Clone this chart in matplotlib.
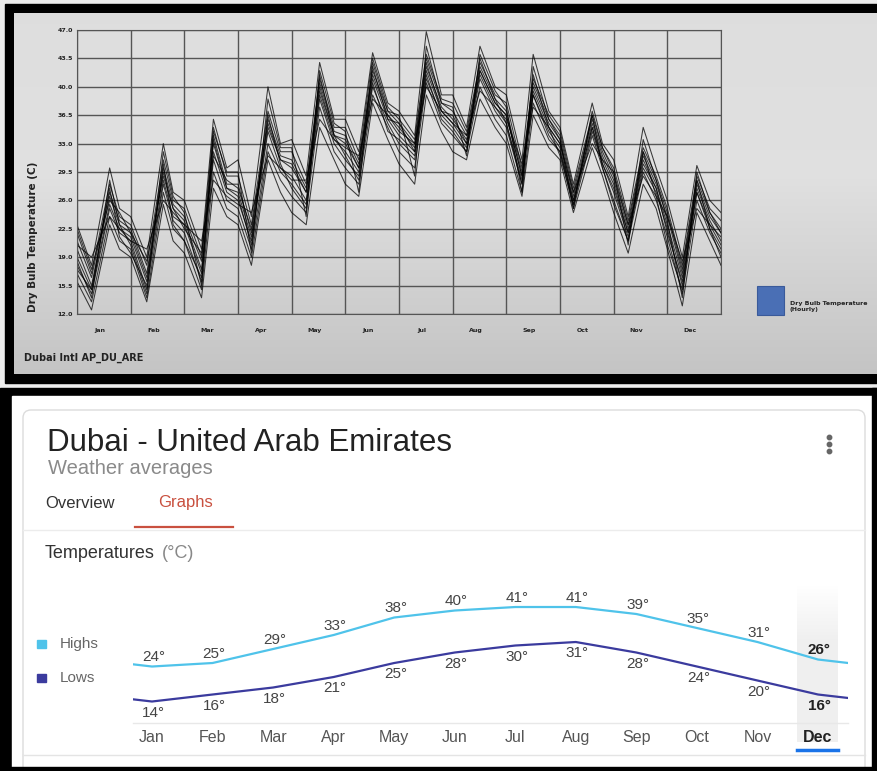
import numpy as np
import matplotlib.pyplot as plt
from matplotlib.patches import Rectangle, FancyBboxPatch

W, H = 878, 771

months = ['Jan', 'Feb', 'Mar', 'Apr', 'May', 'Jun',
          'Jul', 'Aug', 'Sep', 'Oct', 'Nov', 'Dec']

# Grafico de arriba: temperatura de bulbo seco horaria (un dia tipo por fila)
min_hour = [6.5, 7.2, 7.7, 6.0, 6.5, 6.0, 7.0, 6.2, 7.0, 6.0, 6.5, 6.7]
peak_hour = [14.6, 14.6, 13.0, 13.4, 12.5, 12.2, 12.2, 12.2, 12.0, 14.4, 13.2, 13.2]
eve_hour = 19

trace_start = [23.0, 22.0, 21.0, 20.0, 19.0, 18.0, 17.0, 16.0, 20.5, 18.5, 22.5, 17.5]

trace_min = [
    [18.0, 19.0, 20.0, 24.0, 29.0, 32.0, 34.0, 35.0, 31.0, 28.0, 24.0, 19.0],
    [17.0, 18.0, 19.0, 23.0, 28.0, 31.0, 33.5, 34.5, 30.0, 27.5, 23.5, 18.0],
    [16.5, 17.0, 18.5, 22.0, 27.5, 30.5, 33.0, 34.0, 29.5, 27.0, 23.0, 17.5],
    [15.5, 16.5, 17.5, 21.5, 27.0, 30.0, 32.5, 33.5, 29.0, 26.5, 22.5, 17.0],
    [15.0, 16.0, 17.0, 21.0, 26.0, 29.5, 32.0, 33.0, 28.5, 26.0, 22.0, 16.5],
    [14.5, 15.0, 16.0, 20.0, 25.5, 29.0, 31.0, 32.5, 28.0, 25.5, 21.5, 15.5],
    [13.5, 14.0, 15.0, 19.0, 24.5, 28.0, 30.0, 32.0, 27.0, 25.0, 21.0, 14.5],
    [12.5, 13.5, 14.0, 18.0, 23.0, 26.5, 28.0, 31.0, 26.5, 24.5, 19.5, 13.0],
    [19.0, 20.0, 21.0, 24.5, 28.5, 31.5, 33.0, 34.0, 30.5, 27.0, 23.0, 18.5],
    [14.0, 14.5, 15.5, 19.5, 24.0, 27.0, 29.0, 31.5, 27.0, 25.0, 20.5, 14.0],
    [17.5, 18.5, 19.5, 22.5, 27.0, 30.0, 32.0, 33.0, 29.0, 26.0, 22.0, 16.0],
    [15.0, 15.5, 16.5, 20.5, 25.0, 28.5, 31.5, 32.0, 28.0, 25.5, 21.0, 15.0],
]
trace_peak = [
    [30.0, 33.0, 36.0, 40.0, 43.0, 44.2, 46.8, 45.0, 44.0, 38.0, 35.0, 30.3],
    [28.0, 31.0, 35.0, 37.0, 41.0, 43.5, 44.0, 43.0, 41.0, 36.5, 32.5, 29.0],
    [27.0, 30.0, 34.0, 36.0, 40.5, 42.0, 43.5, 42.5, 40.5, 36.0, 32.0, 28.5],
    [26.5, 29.5, 33.0, 35.0, 40.0, 41.5, 42.5, 42.0, 40.0, 35.5, 31.5, 28.0],
    [25.5, 28.5, 32.0, 34.5, 39.0, 41.0, 42.0, 41.5, 39.5, 35.0, 31.0, 27.5],
    [25.0, 28.0, 31.0, 33.0, 38.5, 40.0, 41.0, 41.0, 39.0, 34.5, 30.0, 27.0],
    [24.0, 27.0, 29.5, 32.0, 37.5, 39.0, 40.5, 40.0, 38.0, 34.0, 29.5, 26.0],
    [23.0, 25.5, 27.5, 31.0, 35.0, 38.0, 39.0, 38.5, 36.5, 32.5, 28.0, 24.5],
    [24.0, 26.0, 28.5, 31.5, 36.0, 38.5, 40.0, 39.5, 37.5, 33.0, 29.0, 25.0],
    [28.5, 32.0, 34.5, 38.5, 42.0, 43.0, 45.0, 44.0, 42.5, 37.0, 33.5, 29.5],
    [26.0, 29.0, 31.5, 35.5, 39.5, 42.5, 43.0, 42.0, 39.0, 35.0, 30.5, 27.0],
    [27.5, 30.5, 33.5, 36.5, 41.5, 40.5, 41.5, 43.5, 41.5, 36.5, 32.0, 28.5],
]
trace_eve = [
    [25.0, 27.0, 30.0, 33.0, 36.0, 38.0, 39.0, 40.0, 37.0, 33.0, 30.0, 26.0],
    [24.0, 26.0, 29.0, 32.0, 35.0, 37.5, 38.5, 39.0, 36.5, 32.5, 29.0, 25.0],
    [23.5, 25.5, 28.0, 31.5, 34.5, 37.0, 38.0, 38.5, 36.0, 32.0, 28.5, 24.5],
    [23.0, 25.0, 27.5, 31.0, 34.0, 36.5, 37.5, 38.0, 35.5, 31.5, 28.0, 24.0],
    [22.5, 24.0, 27.0, 30.0, 33.5, 36.0, 37.0, 37.5, 35.0, 31.0, 27.5, 23.5],
    [22.0, 23.5, 26.0, 29.5, 33.0, 35.5, 36.5, 37.0, 34.5, 30.5, 27.0, 23.0],
    [21.0, 22.5, 25.0, 28.5, 32.0, 35.0, 35.5, 36.0, 33.5, 30.0, 26.0, 22.0],
    [20.0, 21.0, 24.0, 27.0, 31.0, 33.5, 34.5, 35.0, 32.5, 29.0, 25.0, 21.0],
    [22.5, 24.5, 26.5, 30.0, 33.5, 36.5, 37.0, 37.5, 35.0, 31.0, 26.5, 23.0],
    [23.0, 26.5, 29.5, 32.5, 35.5, 37.0, 38.0, 39.5, 36.0, 32.5, 28.5, 24.5],
    [24.5, 25.0, 28.5, 31.0, 34.0, 36.0, 37.0, 38.0, 34.0, 30.5, 27.5, 22.5],
    [21.5, 23.0, 27.5, 30.5, 34.0, 34.5, 36.0, 38.5, 35.0, 30.0, 26.5, 22.5],
]
trace_end = [
    [24.0, 26.0, 31.0, 33.5, 36.0, 37.0, 39.0, 39.0, 35.0, 31.0, 26.0, 24.5],
    [23.0, 25.0, 29.0, 32.0, 35.0, 36.0, 38.0, 38.0, 34.5, 30.0, 25.0, 23.5],
    [22.5, 24.0, 28.0, 31.0, 34.0, 35.5, 37.0, 37.0, 34.0, 29.0, 24.5, 22.5],
    [22.0, 23.5, 27.0, 30.0, 33.0, 35.0, 36.0, 36.5, 33.5, 28.5, 24.0, 22.0],
    [21.5, 23.0, 26.0, 29.0, 32.0, 34.0, 35.5, 35.5, 33.0, 28.0, 23.0, 21.0],
    [21.0, 22.0, 25.0, 28.0, 31.0, 33.0, 35.0, 35.0, 32.5, 27.0, 22.5, 20.5],
    [20.0, 21.0, 24.0, 26.5, 30.0, 32.0, 34.0, 34.0, 32.0, 26.0, 21.5, 19.5],
    [19.0, 19.5, 23.0, 24.5, 28.0, 30.5, 32.0, 33.0, 31.0, 24.5, 20.0, 18.0],
    [21.0, 23.0, 25.5, 28.5, 32.5, 34.5, 35.5, 36.0, 33.0, 29.5, 24.0, 21.5],
    [20.5, 24.5, 29.5, 32.5, 34.5, 36.5, 37.5, 37.5, 33.5, 29.5, 23.5, 22.0],
    [22.0, 22.5, 27.5, 30.5, 33.5, 35.5, 36.5, 36.5, 32.0, 27.5, 22.0, 20.0],
    [19.5, 21.0, 26.5, 27.5, 31.5, 33.5, 34.5, 35.5, 31.5, 25.5, 20.5, 19.0],
]

# Grafico de abajo: promedios mensuales
highs = [24, 25, 29, 33, 38, 40, 41, 41, 39, 35, 31, 26]
lows = [14, 16, 18, 21, 25, 28, 30, 31, 28, 24, 20, 16]


def px_box(x0, y0, x1, y1):
    return [x0 / W, 1 - y1 / H, (x1 - x0) / W, (y1 - y0) / H]


fig = plt.figure(figsize=(W / 100, H / 100), dpi=100, facecolor='#ececec')

# Fondo en coordenadas de pixel
bg = fig.add_axes([0, 0, 1, 1])
bg.set_xlim(0, W)
bg.set_ylim(H, 0)
bg.axis('off')

# Panel de arriba: marco negro y degradado gris
bg.add_patch(Rectangle((5, 4), 890, 379, color='black', zorder=1))
grad = np.interp(np.linspace(0, 1, 200), [0, 0.45, 1], [0.87, 0.88, 0.77])
grad_img = np.repeat(grad[:, None, None], 3, axis=2)
bg.imshow(grad_img, extent=(14, 890, 374, 13), aspect='auto', zorder=2)

bg.text(33, 237, 'Dry Bulb Temperature (C)', rotation=90, ha='center', va='center',
        fontsize=7.5, fontweight='bold', color='#222', zorder=3)
bg.text(24, 358, 'Dubai Intl AP_DU_ARE', ha='left', va='center',
        fontsize=7, fontweight='bold', color='#222', zorder=3)
bg.add_patch(Rectangle((757, 286), 27, 29, facecolor='#4a6fb5', edgecolor='#3a5a9a',
                       lw=0.8, zorder=3))
bg.text(790, 303, 'Dry Bulb Temperature', ha='left', va='center',
        fontsize=4.5, fontweight='bold', color='#222', zorder=3)
bg.text(790, 309.5, '(Hourly)', ha='left', va='center',
        fontsize=4.5, fontweight='bold', color='#222', zorder=3)

# Panel de abajo: marco negro, fondo blanco y tarjeta
bg.add_patch(Rectangle((0, 388), W, H - 388, color='black', zorder=1))
bg.add_patch(Rectangle((12, 396), 860, 371, color='white', zorder=2))
bg.add_patch(FancyBboxPatch((23, 410), 842, 380, boxstyle='round,pad=0,rounding_size=8',
                            facecolor='white', edgecolor='#dcdcdc', lw=1, zorder=2.5))
bg.add_patch(Rectangle((0, 767), W, 4, color='black', zorder=6))
bg.add_patch(Rectangle((872, 388), 6, 383, color='black', zorder=6))

bg.text(47, 443, 'Dubai - United Arab Emirates', ha='left', va='center',
        fontsize=22.5, family='Liberation Sans', color='#222', zorder=3)
bg.text(48, 469, 'Weather averages', ha='left', va='center',
        fontsize=14.5, family='Liberation Sans', color='#8a8a8a', zorder=3)
bg.plot([829, 829, 829], [437, 444, 451], 'o', ms=3.2, color='#666', zorder=3)

bg.text(45, 503, 'Overview', ha='left', va='center',
        fontsize=12, family='Liberation Sans', color='#333', zorder=3)
bg.text(158, 503, 'Graphs', ha='left', va='center',
        fontsize=12, family='Liberation Sans', color='#c9503f', zorder=3)
bg.plot([135, 233], [527, 527], color='#c9503f', lw=1.6, zorder=3)
bg.plot([23, 865], [530, 530], color='#ececec', lw=1, zorder=2.8)

bg.text(45, 554, 'Temperatures', ha='left', va='center',
        fontsize=13, family='Liberation Sans', color='#333', zorder=3)
bg.text(162, 554, '(°C)', ha='left', va='center',
        fontsize=13, family='Liberation Sans', color='#888', zorder=3)

# leyenda
bg.add_patch(Rectangle((37, 640), 9, 8, color='#4fc3ea', zorder=3))
bg.text(60, 644, 'Highs', ha='left', va='center',
        fontsize=11, family='Liberation Sans', color='#666', zorder=3)
bg.add_patch(Rectangle((37, 674), 9, 8, color='#3b3b9e', zorder=3))
bg.text(60, 678, 'Lows', ha='left', va='center',
        fontsize=11, family='Liberation Sans', color='#666', zorder=3)

# columna resaltada de diciembre
col = np.interp(np.linspace(0, 1, 100), [0, 0.35, 1], [1.0, 0.94, 0.94])
col_img = np.repeat(col[:, None, None], 3, axis=2)
bg.imshow(col_img, extent=(797, 838, 742, 585), aspect='auto', zorder=2.9)
bg.plot([797, 838], [750, 750], color='#1a73e8', lw=2.5, zorder=3)
bg.plot([133, 848], [723, 723], color='#e8e8e8', lw=1, zorder=3)
bg.plot([23, 865], [755, 755], color='#e4e4e4', lw=1, zorder=3)

# Grafico horario
ax1 = fig.add_axes(px_box(77, 30, 721, 314))
ax1.set_facecolor('none')
for i in range(len(trace_start)):
    xs = [0]
    ys = [trace_start[i]]
    for m in range(12):
        xs += [m + min_hour[m] / 24, m + peak_hour[m] / 24, m + eve_hour / 24, m + 1]
        ys += [trace_min[i][m], trace_peak[i][m], trace_eve[i][m], trace_end[i][m]]
    ax1.plot(xs, ys, color='black', lw=0.75, alpha=0.75)

ax1.set_xlim(0, 12)
ax1.set_ylim(12, 47)
yt = np.arange(12, 47.1, 3.5)
ax1.set_yticks(yt, [f'{v:.1f}' for v in yt])
ax1.set_xticks(np.arange(12) + 0.43, months)
ax1.set_xticks(np.arange(13), minor=True)
ax1.grid(which='minor', axis='x', color='#555', lw=1)
ax1.grid(which='major', axis='y', color='#555', lw=1)
ax1.tick_params(which='both', length=0)
ax1.tick_params(axis='y', labelsize=4.5, pad=3)
ax1.tick_params(axis='x', labelsize=4.5, pad=10)
for lab in ax1.get_xticklabels() + ax1.get_yticklabels():
    lab.set_fontweight('bold')
    lab.set_color('#222')
for sp in ax1.spines.values():
    sp.set_color('#555')

# Grafico de promedios
ax2 = fig.add_axes(px_box(133.2, 585, 848.3, 723))
ax2.set_facecolor('none')
xm = np.arange(-1, 13)
ax2.plot(xm, [highs[-1]] + highs + [highs[0]], color='#4fc3ea', lw=1.6)
ax2.plot(xm, [lows[-1]] + lows + [lows[0]], color='#3b3b9e', lw=1.6)
ax2.set_xlim(-0.31, 11.5)
ax2.set_ylim(7.86, 47.29)
for m in range(12):
    w = 'bold' if m == 11 else 'normal'
    c = '#222' if m == 11 else '#444'
    ax2.annotate(f'{highs[m]}°', (m, highs[m]), xytext=(1, 6.5), textcoords='offset points',
                 ha='center', va='center', fontsize=11, family='Liberation Sans',
                 color=c, fontweight=w)
    ax2.annotate(f'{lows[m]}°', (m, lows[m]), xytext=(1, -8), textcoords='offset points',
                 ha='center', va='center', fontsize=11, family='Liberation Sans',
                 color=c, fontweight=w)
ax2.set_xticks(range(12), months)
ax2.set_yticks([])
ax2.tick_params(length=0, pad=5, labelsize=11.5, labelcolor='#555')
for lab in ax2.get_xticklabels():
    lab.set_family('Liberation Sans')
ax2.get_xticklabels()[11].set_fontweight('bold')
ax2.get_xticklabels()[11].set_color('#222')
for sp in ax2.spines.values():
    sp.set_visible(False)

plt.savefig('out.png', dpi=100)
